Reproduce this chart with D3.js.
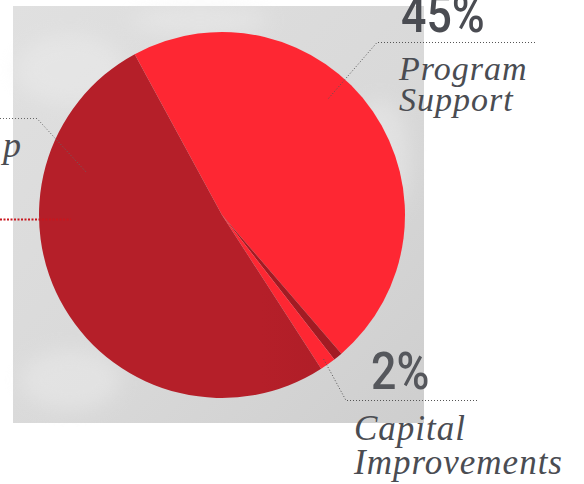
<!DOCTYPE html>
<html>
<head>
<meta charset="utf-8">
<script src="https://cdn.jsdelivr.net/npm/d3@7"></script>
<style>
  html, body { margin: 0; padding: 0; background: #fff; overflow: hidden; }
  svg { display: block; }
</style>
</head>
<body>
<div id="chart"></div>
<script>
// slice shares as drawn (percent of the circle)
const categories = ["Program Support", "Other", "Capital Improvements", "Leadership"];
const values = [46.6, 0.8, 1.4, 51.2];
const sliceColors = ["#fe2733", "#a21b23", "#fe2733", "url(#darkGrad)"];
// labels as printed on the picture
const pctLabels = ["45%", "2%"];
const nameLabels = [["Program", "Support"], ["Capital", "Improvements"]];

const width = 584;
const height = 484;
const cx = 222, cy = 215, radius = 183;

const svg = d3.select("#chart").append("svg")
    .attr("width", width)
    .attr("height", height);

const defs = svg.append("defs");

// gray photo-ish background
const bgGrad = defs.append("linearGradient")
    .attr("id", "bgGrad")
    .attr("x1", "0").attr("y1", "0").attr("x2", "1").attr("y2", "1");
bgGrad.append("stop").attr("offset", "0%").attr("stop-color", "#e0e0e0");
bgGrad.append("stop").attr("offset", "55%").attr("stop-color", "#d9d9d9");
bgGrad.append("stop").attr("offset", "100%").attr("stop-color", "#cecece");

const darkGrad = defs.append("linearGradient")
    .attr("id", "darkGrad")
    .attr("gradientUnits", "userSpaceOnUse")
    .attr("x1", cx - radius).attr("y1", 0).attr("x2", cx + 60).attr("y2", 0);
darkGrad.append("stop").attr("offset", "0%").attr("stop-color", "#b51f29");
darkGrad.append("stop").attr("offset", "100%").attr("stop-color", "#a11b23");

const blur = defs.append("filter").attr("id", "soft")
    .attr("x", "-50%").attr("y", "-50%").attr("width", "200%").attr("height", "200%");
blur.append("feGaussianBlur").attr("stdDeviation", 10);

svg.append("rect")
    .attr("x", 13).attr("y", 6)
    .attr("width", 411).attr("height", 417)
    .attr("fill", "url(#bgGrad)");

// a few soft light patches for the texture
const patches = svg.append("g").attr("filter", "url(#soft)").attr("opacity", 0.45);
[[70, 70, 55, 35], [200, 20, 70, 14], [70, 380, 50, 30], [380, 160, 30, 60]].forEach(p => {
    patches.append("ellipse")
        .attr("cx", p[0]).attr("cy", p[1]).attr("rx", p[2]).attr("ry", p[3])
        .attr("fill", "#eeeeee");
});

// pie
const pie = d3.pie()
    .sort(null)
    .value(d => d)
    .startAngle(-28.5 * Math.PI / 180)
    .endAngle((360 - 28.5) * Math.PI / 180);

const arc = d3.arc().innerRadius(0).outerRadius(radius);

svg.append("g")
    .attr("transform", `translate(${cx},${cy})`)
    .selectAll("path")
    .data(pie(values))
    .enter().append("path")
    .attr("d", arc)
    .attr("fill", (d, i) => sliceColors[i]);

// labels and leaders
const textColor = "#4a4c52";
const pctFont = "Roboto, sans-serif";
const nameFont = "'Liberation Serif', serif";

function dotted(points, color, w, dash) {
    svg.append("path")
        .attr("d", d3.line()(points))
        .attr("fill", "none")
        .attr("stroke", color)
        .attr("stroke-width", w)
        .attr("stroke-dasharray", dash);
}

function pctText(x, y, t, color) {
    svg.append("text")
        .attr("transform", `translate(${x},${y}) scale(0.86,1)`)
        .attr("font-family", pctFont).attr("font-weight", 500)
        .attr("font-size", 52).attr("fill", color)
        .text(t);
}

// Program Support
dotted([[535, 42.5], [377, 42.5], [328, 99]], "#555", 1, "1,2");
pctText(401, 32, pctLabels[0], textColor);
nameLabels[0].forEach((t, i) => {
    svg.append("text")
        .attr("x", 399).attr("y", 80 + i * 31)
        .attr("font-family", nameFont).attr("font-style", "italic")
        .attr("font-size", 34).attr("letter-spacing", 1).attr("fill", textColor)
        .text(t);
});

// Capital Improvements
dotted([[477, 400.5], [346, 400.5], [323, 358]], "#555", 1, "1,2");
pctText(371, 389, pctLabels[1], "#55575c");
nameLabels[1].forEach((t, i) => {
    svg.append("text")
        .attr("x", 354).attr("y", 440 + i * 34)
        .attr("font-family", nameFont).attr("font-style", "italic")
        .attr("font-size", 35).attr("letter-spacing", 1).attr("fill", textColor)
        .text(t);
});

// labels running off the left edge
dotted([[0, 118.5], [37, 118.5], [87, 173]], "#666", 1, "1,2");
svg.append("text")
    .attr("x", 24).attr("y", 157)
    .attr("text-anchor", "end")
    .attr("font-family", nameFont).attr("font-style", "italic")
    .attr("font-size", 36).attr("letter-spacing", 3).attr("fill", textColor)
    .text(categories[3]);
dotted([[0, 219.5], [71, 219.5]], "#c8161e", 2, "2,1.5");
</script>
</body>
</html>
